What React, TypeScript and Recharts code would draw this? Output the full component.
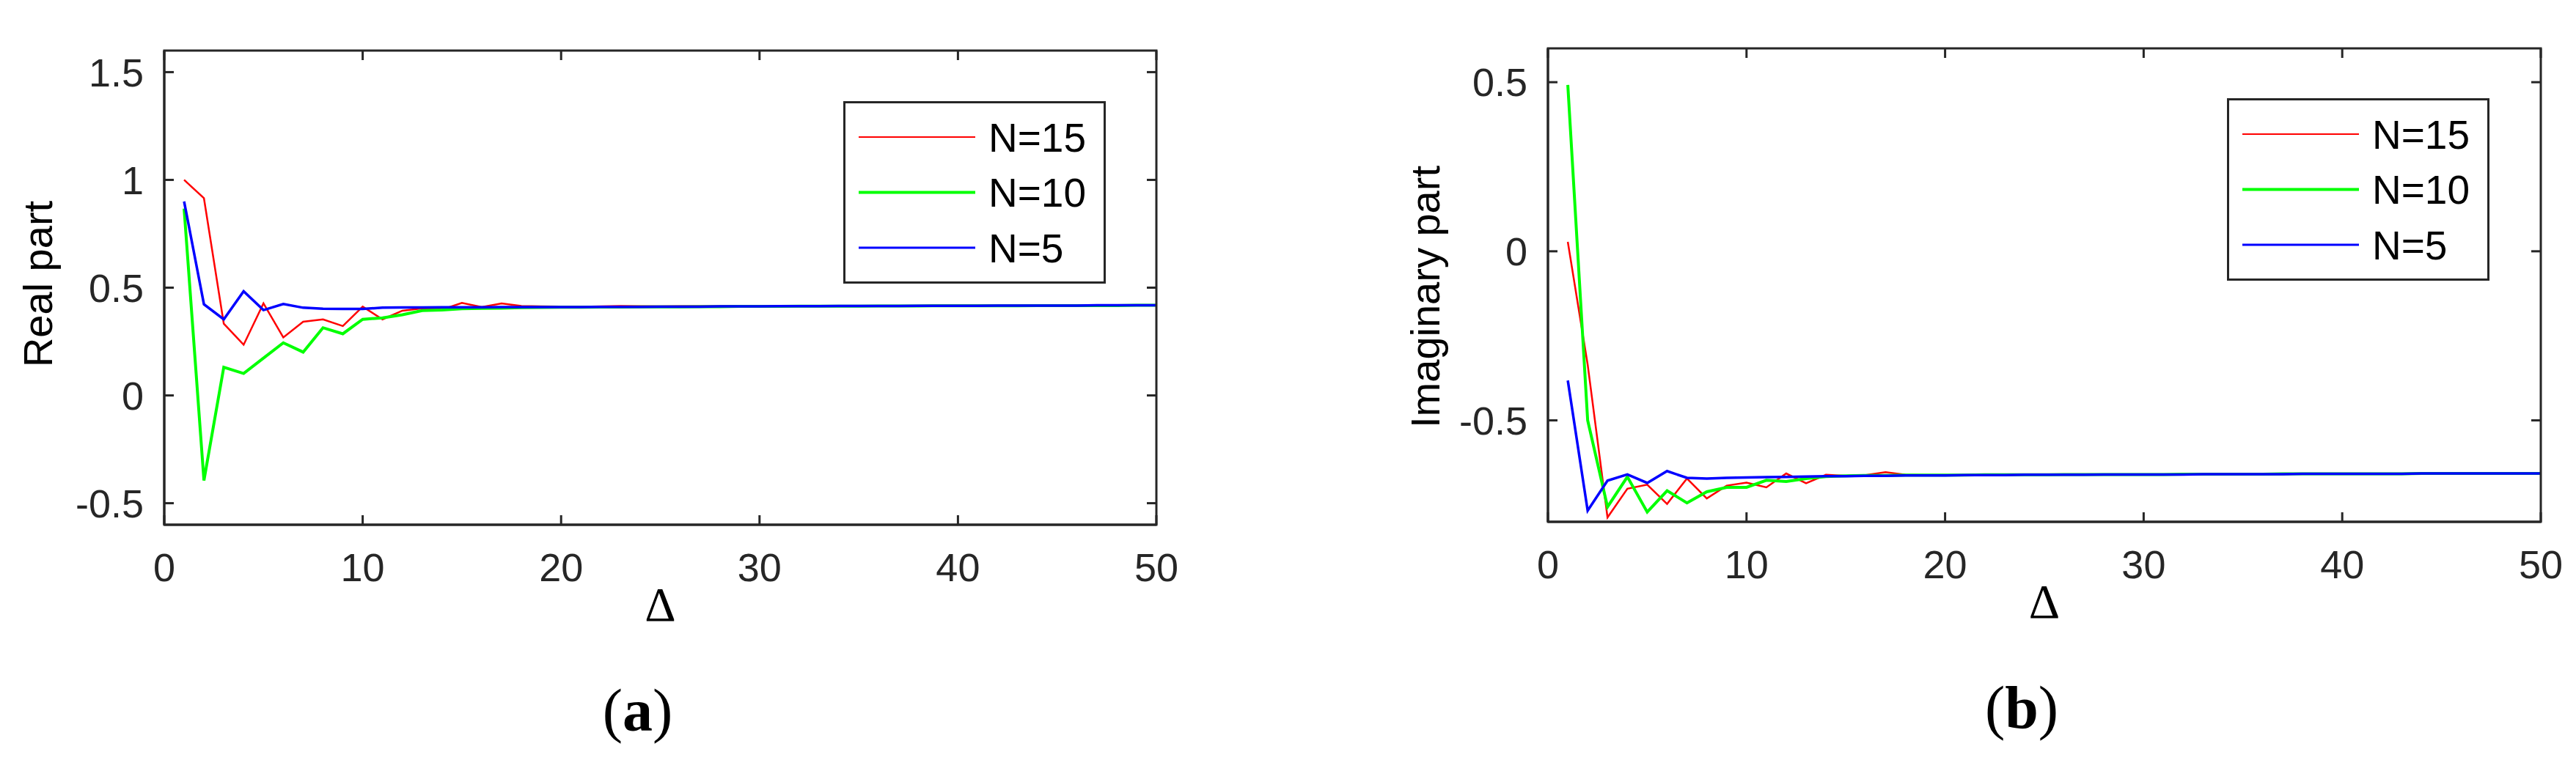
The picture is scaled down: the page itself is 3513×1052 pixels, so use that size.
import { Label, Legend, Line, LineChart, XAxis, YAxis } from 'recharts'

const DELTA = [
  1, 2, 3, 4, 5, 6, 7, 8, 9, 10, 11, 12, 13, 14, 15, 16, 17, 18, 19, 20, 21, 22, 23, 24, 25,
  26, 27, 28, 29, 30, 31, 32, 33, 34, 35, 36, 37, 38, 39, 40, 41, 42, 43, 44, 45, 46, 47, 48, 49, 50,
]

const REAL_N15 = [
  1.0, 0.915, 0.333, 0.235, 0.427, 0.269, 0.342, 0.353, 0.322, 0.412,
  0.353, 0.393, 0.404, 0.398, 0.429, 0.41, 0.427, 0.415, 0.413, 0.412,
  0.412, 0.413, 0.415, 0.414, 0.413, 0.414, 0.414, 0.414, 0.415, 0.414,
  0.415, 0.415, 0.415, 0.416, 0.416, 0.416, 0.416, 0.416, 0.417, 0.417,
  0.417, 0.417, 0.417, 0.417, 0.418, 0.418, 0.418, 0.418, 0.418, 0.418,
]
const REAL_N10 = [
  0.867, -0.395, 0.131, 0.102, 0.173, 0.244, 0.201, 0.314, 0.286, 0.353,
  0.36, 0.374, 0.394, 0.396, 0.402, 0.404, 0.405, 0.407, 0.408, 0.409,
  0.409, 0.41, 0.41, 0.411, 0.411, 0.411, 0.412, 0.412, 0.413, 0.413,
  0.413, 0.414, 0.414, 0.414, 0.414, 0.415, 0.415, 0.415, 0.416, 0.416,
  0.416, 0.416, 0.416, 0.417, 0.417, 0.417, 0.417, 0.417, 0.418, 0.418,
]
const REAL_N5 = [
  0.9, 0.423, 0.353, 0.483, 0.396, 0.424, 0.407, 0.402, 0.401, 0.401,
  0.407, 0.408, 0.408, 0.409, 0.409, 0.409, 0.41, 0.41, 0.41, 0.41,
  0.41, 0.411, 0.411, 0.411, 0.412, 0.412, 0.412, 0.413, 0.413, 0.413,
  0.414, 0.414, 0.414, 0.415, 0.415, 0.415, 0.415, 0.416, 0.416, 0.416,
  0.416, 0.417, 0.417, 0.417, 0.417, 0.417, 0.418, 0.418, 0.418, 0.418,
]

const IMAG_N15 = [
  0.028, -0.335, -0.787, -0.702, -0.69, -0.747, -0.672, -0.731, -0.693, -0.684,
  -0.698, -0.657, -0.686, -0.661, -0.664, -0.662, -0.653, -0.661, -0.662, -0.662,
  -0.662, -0.661, -0.661, -0.661, -0.661, -0.661, -0.66, -0.66, -0.66, -0.66,
  -0.66, -0.659, -0.659, -0.659, -0.659, -0.659, -0.659, -0.658, -0.658, -0.658,
  -0.658, -0.658, -0.658, -0.658, -0.657, -0.657, -0.657, -0.657, -0.657, -0.657,
]
const IMAG_N10 = [
  0.492, -0.5, -0.756, -0.667, -0.771, -0.708, -0.744, -0.711, -0.698, -0.698,
  -0.677, -0.681, -0.672, -0.666, -0.664, -0.663, -0.663, -0.662, -0.662, -0.662,
  -0.662, -0.661, -0.661, -0.661, -0.661, -0.66, -0.66, -0.66, -0.66, -0.66,
  -0.66, -0.659, -0.659, -0.659, -0.659, -0.659, -0.658, -0.658, -0.658, -0.658,
  -0.658, -0.658, -0.658, -0.657, -0.657, -0.657, -0.657, -0.657, -0.657, -0.657,
]
const IMAG_N5 = [
  -0.382, -0.767, -0.678, -0.66, -0.685, -0.65, -0.67, -0.672, -0.67, -0.669,
  -0.668, -0.667, -0.666, -0.665, -0.665, -0.664, -0.664, -0.663, -0.663, -0.663,
  -0.662, -0.662, -0.662, -0.661, -0.661, -0.661, -0.661, -0.66, -0.66, -0.66,
  -0.66, -0.66, -0.659, -0.659, -0.659, -0.659, -0.659, -0.658, -0.658, -0.658,
  -0.658, -0.658, -0.658, -0.657, -0.657, -0.657, -0.657, -0.657, -0.657, -0.657,
]

const X_TICKS = [0, 10, 20, 30, 40, 50]
const REAL_TICKS = [-0.5, 0, 0.5, 1, 1.5]
const IMAG_TICKS = [-0.5, 0, 0.5]

const SERIES = [
  { key: 'n15', name: 'N=15', color: '#ff0000', width: 2.5, legendWidth: 2 },
  { key: 'n10', name: 'N=10', color: '#00ff00', width: 4, legendWidth: 4 },
  { key: 'n5', name: 'N=5', color: '#0000ff', width: 3.5, legendWidth: 3 },
]

const realData = DELTA.map((x, i) => ({ x, n15: REAL_N15[i], n10: REAL_N10[i], n5: REAL_N5[i] }))
const imagData = DELTA.map((x, i) => ({ x, n15: IMAG_N15[i], n10: IMAG_N10[i], n5: IMAG_N5[i] }))

const AXIS = '#262626'
const SANS = '"Liberation Sans", Arial, sans-serif'
const SERIF = '"Liberation Serif", "Times New Roman", serif'
const FRAME = { stroke: AXIS, strokeWidth: 3 }
const TICK_LEN = 13
const X_GAP = 39 // axis line -> top of x tick labels
const Y_GAP = 28 // axis line -> right edge of y tick labels

// legend drawn in plot order (recharts sorts payload by name otherwise)
function LegendBox({ payload }: any) {
  const entries = SERIES.map((s) => {
    const found = (payload || []).find((p: any) => p.dataKey === s.key)
    return { ...s, color: found ? found.color : s.color }
  })
  return (
    <svg width={358} height={249} style={{ display: 'block' }}>
      <rect x={1.5} y={1.5} width={355} height={246} fill="#fff" stroke={AXIS} strokeWidth={3} />
      {entries.map((e, i) => {
        const cy = 49 + i * 75.5
        return (
          <g key={e.key}>
            <line x1={21} x2={180} y1={cy} y2={cy} stroke={e.color} strokeWidth={e.legendWidth} />
            <text x={198} y={cy + 19.5} fontSize={55} fontFamily={SANS} fill="#000">
              {e.name}
            </text>
          </g>
        )
      })}
    </svg>
  )
}

type PanelProps = {
  data: typeof realData
  domain: [number, number]
  yTicks: number[]
  yLabel: string
  yLabelX: number
  yLabelShift: number
  tag: string
  plotLeft: number
  plotWidth: number
  plotHeight: number
  width: number
  margin: { top: number; right: number; bottom: number }
  legendPos: { left: number; top: number }
}

function Panel(p: PanelProps) {
  // x tick: label plus inward tick marks on the bottom and top edges (MATLAB box style)
  const xTick = (tp: any) => {
    const { x, y, payload } = tp
    const base = y - X_GAP
    const top = base - p.plotHeight
    return (
      <g>
        <line x1={x} x2={x} y1={base} y2={base - TICK_LEN} stroke={AXIS} strokeWidth={3} />
        <line x1={x} x2={x} y1={top} y2={top + TICK_LEN} stroke={AXIS} strokeWidth={3} />
        <text x={x} y={y} dy="0.71em" textAnchor="middle" fontSize={54} fontFamily={SANS} fill={AXIS}>
          {String(payload.value)}
        </text>
      </g>
    )
  }
  // y tick: label plus inward tick marks on the left and right edges
  const yTick = (tp: any) => {
    const { x, y, payload } = tp
    const left = x + Y_GAP
    const right = left + p.plotWidth
    return (
      <g>
        <line x1={left} x2={left + TICK_LEN} y1={y} y2={y} stroke={AXIS} strokeWidth={3} />
        <line x1={right} x2={right - TICK_LEN} y1={y} y2={y} stroke={AXIS} strokeWidth={3} />
        <text x={x} y={y} dy="0.355em" textAnchor="end" fontSize={54} fontFamily={SANS} fill={AXIS}>
          {String(payload.value)}
        </text>
      </g>
    )
  }

  return (
    <LineChart
      width={p.width}
      height={1052}
      data={p.data}
      margin={{ top: p.margin.top, right: p.margin.right, bottom: p.margin.bottom, left: 0 }}
    >
      <XAxis
        dataKey="x"
        type="number"
        domain={[0, 50]}
        ticks={X_TICKS}
        interval={0}
        height={100}
        tickSize={0}
        tickMargin={X_GAP}
        tick={xTick}
        tickLine={false}
        stroke={AXIS}
        axisLine={FRAME}
      >
        <Label
          content={(lp: any) => {
            const vb = lp.viewBox || {}
            const cx = vb.x + vb.width / 2
            return (
              <g>
                {/* plot box: left/bottom coincide with the axis lines */}
                <rect
                  x={vb.x}
                  y={vb.y - p.plotHeight}
                  width={vb.width}
                  height={p.plotHeight}
                  fill="none"
                  stroke={AXIS}
                  strokeWidth={3}
                />
                <text x={cx} y={vb.y + 131} textAnchor="middle" fontSize={66} fontFamily={SERIF} fill="#000">
                  Δ
                </text>
                <text x={cx - 31} y={vb.y + 281} textAnchor="middle" fontSize={82} fontFamily={SERIF} fill="#000">
                  (<tspan fontWeight="bold">{p.tag}</tspan>)
                </text>
              </g>
            )
          }}
        />
      </XAxis>
      <YAxis
        type="number"
        domain={p.domain}
        ticks={p.yTicks}
        interval={0}
        width={p.plotLeft}
        tickSize={0}
        tickMargin={Y_GAP}
        tick={yTick}
        tickLine={false}
        stroke={AXIS}
        axisLine={FRAME}
      >
        <Label
          content={(lp: any) => {
            const vb = lp.viewBox || {}
            const lx = vb.x + p.yLabelX
            const ly = vb.y + vb.height / 2 + p.yLabelShift
            return (
              <text
                x={lx}
                y={ly}
                textAnchor="middle"
                fontSize={56}
                fontFamily={SANS}
                fill="#000"
                transform={`rotate(-90, ${lx}, ${ly})`}
              >
                {p.yLabel}
              </text>
            )
          }}
        />
      </YAxis>
      <Legend
        layout="horizontal"
        verticalAlign="middle"
        align="center"
        content={<LegendBox />}
        wrapperStyle={{ left: p.legendPos.left, top: p.legendPos.top, width: 358, height: 249 }}
      />
      {SERIES.map((s) => (
        <Line
          key={s.key}
          type="linear"
          dataKey={s.key}
          name={s.name}
          stroke={s.color}
          strokeWidth={s.width}
          dot={false}
          activeDot={false}
          isAnimationActive={false}
        />
      ))}
    </LineChart>
  )
}

export default function App() {
  return (
    <div style={{ position: 'absolute', left: 0, top: 0, width: 3513, height: 1052, background: '#fff' }}>
      <div style={{ position: 'absolute', left: 0, top: 0 }}>
        <Panel
          data={realData}
          domain={[-0.6, 1.6]}
          yTicks={REAL_TICKS}
          yLabel="Real part"
          yLabelX={71}
          yLabelShift={-5}
          tag="a"
          plotLeft={224}
          plotWidth={1353}
          plotHeight={647}
          width={1756}
          margin={{ top: 69, right: 179, bottom: 236 }}
          legendPos={{ left: 1150, top: 138 }}
        />
      </div>
      <div style={{ position: 'absolute', left: 1756, top: 0 }}>
        <Panel
          data={imagData}
          domain={[-0.8, 0.6]}
          yTicks={IMAG_TICKS}
          yLabel="Imaginary part"
          yLabelX={207}
          yLabelShift={16}
          tag="b"
          plotLeft={355}
          plotWidth={1354}
          plotHeight={646}
          width={1757}
          margin={{ top: 66, right: 48, bottom: 240 }}
          legendPos={{ left: 1281, top: 134 }}
        />
      </div>
    </div>
  )
}
